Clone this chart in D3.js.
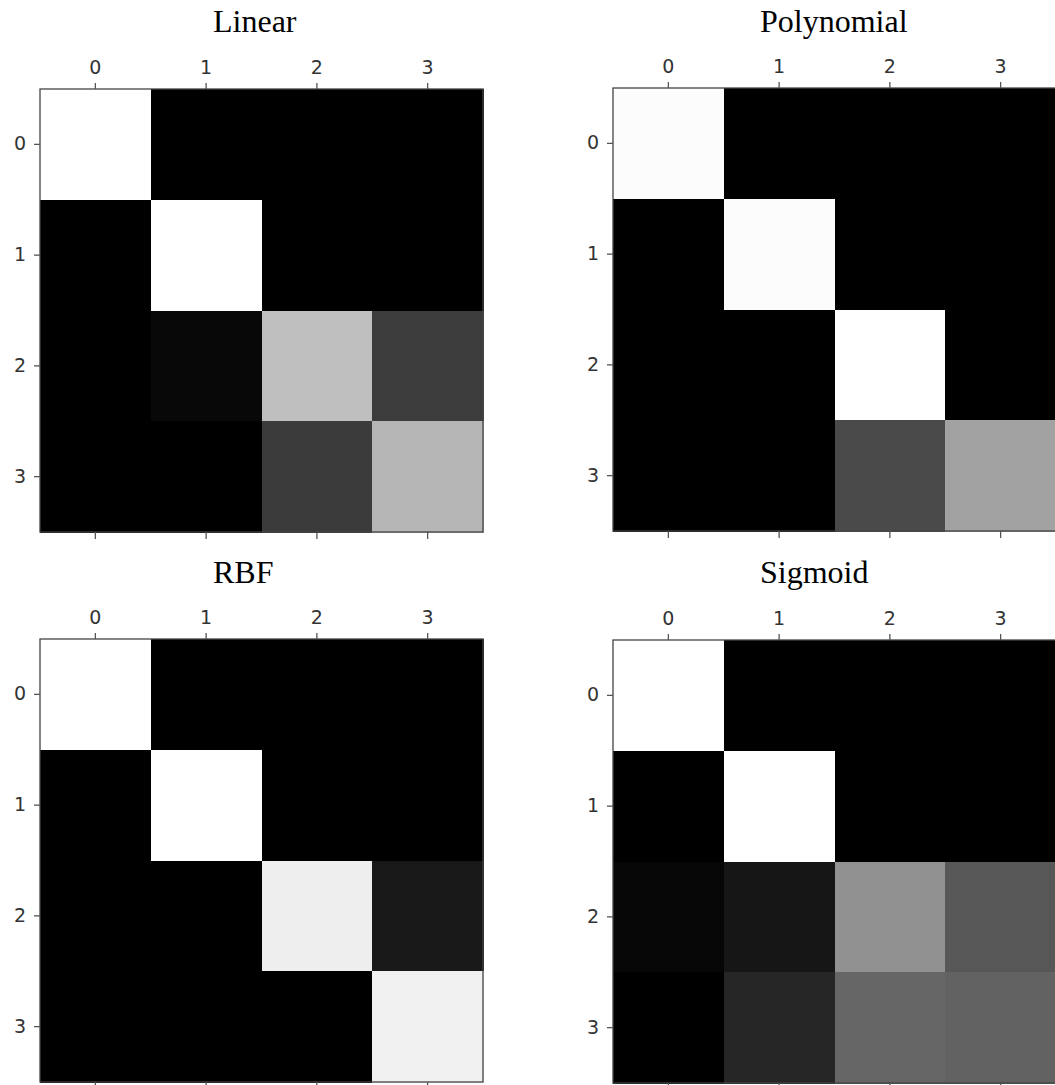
<!DOCTYPE html>
<html>
<head>
<meta charset="utf-8">
<script src="https://cdn.jsdelivr.net/npm/d3@7"></script>
<style>
  html, body { margin: 0; padding: 0; background: #fff; overflow: hidden; }
  svg { display: block; }
  .tick text { font-family: "DejaVu Sans", sans-serif; font-size: 19px; fill: #333; }
  .tick line { stroke: #555; stroke-width: 1.3; }
  .title { font-family: "Liberation Serif", "Times New Roman", serif; font-size: 32px; fill: #000; }
  rect.cell { shape-rendering: crispEdges; }
</style>
</head>
<body>
<svg id="chart" width="1055" height="1085"></svg>
<script>
// Class labels (ticks)
const classes = [0, 1, 2, 3];

// Panel titles
const titles = ["Linear", "Polynomial", "RBF", "Sigmoid"];

// Cell intensities (0 = black, 1 = white), rows = true class, cols = predicted
const linearValues = [
  [1.00, 0.00, 0.00, 0.00],
  [0.00, 1.00, 0.00, 0.00],
  [0.00, 0.03, 0.75, 0.235],
  [0.00, 0.00, 0.23, 0.715]
];
const polynomialValues = [
  [0.99, 0.00, 0.00, 0.00],
  [0.00, 0.99, 0.00, 0.00],
  [0.00, 0.00, 1.00, 0.00],
  [0.00, 0.00, 0.29, 0.635]
];
const rbfValues = [
  [1.00, 0.00, 0.00, 0.00],
  [0.00, 1.00, 0.00, 0.00],
  [0.00, 0.00, 0.935, 0.095],
  [0.00, 0.00, 0.00, 0.94]
];
const sigmoidValues = [
  [1.00, 0.00, 0.00, 0.00],
  [0.00, 1.00, 0.00, 0.00],
  [0.025, 0.085, 0.57, 0.34],
  [0.00, 0.15, 0.40, 0.385]
];

const matrices = [linearValues, polynomialValues, rbfValues, sigmoidValues];

// Layout
const size = 443;
const panels = [
  { x: 40,  y: 89,  titleX: 213, titleY: 32 },
  { x: 613, y: 88,  titleX: 760, titleY: 32 },
  { x: 40,  y: 639, titleX: 213, titleY: 583 },
  { x: 613, y: 640, titleX: 760, titleY: 583 }
];

const svg = d3.select("#chart");
const gray = d3.scaleLinear().domain([0, 1]).range(["#000000", "#ffffff"]).interpolate(d3.interpolateRgb);

panels.forEach((p, i) => {
  const data = matrices[i];
  const x = d3.scaleBand().domain(classes).range([0, size]).padding(0);
  const y = d3.scaleBand().domain(classes).range([0, size]).padding(0);

  svg.append("text")
    .attr("class", "title")
    .attr("x", p.titleX)
    .attr("y", p.titleY)
    .attr("text-anchor", "start")
    .text(titles[i]);

  const g = svg.append("g").attr("transform", `translate(${p.x},${p.y})`);

  const cells = [];
  data.forEach((row, r) => row.forEach((v, c) => cells.push({ r, c, v })));

  g.selectAll("rect.cell")
    .data(cells)
    .join("rect")
    .attr("class", "cell")
    .attr("x", d => x(d.c))
    .attr("y", d => y(d.r))
    .attr("width", x.bandwidth() + 1)
    .attr("height", y.bandwidth() + 1)
    .attr("fill", d => gray(d.v));

  // frame
  g.append("rect")
    .attr("x", 0).attr("y", 0)
    .attr("width", size).attr("height", size)
    .attr("fill", "none")
    .attr("stroke", "#444")
    .attr("stroke-width", 1.3);

  const top = g.append("g")
    .call(d3.axisTop(x).tickSize(6).tickPadding(9));
  top.select(".domain").remove();

  const bottom = g.append("g")
    .attr("transform", `translate(0,${size})`)
    .call(d3.axisBottom(x).tickSize(7).tickFormat(""));
  bottom.select(".domain").remove();

  const left = g.append("g")
    .call(d3.axisLeft(y).tickSize(6).tickPadding(8));
  left.select(".domain").remove();
});
</script>
</body>
</html>
